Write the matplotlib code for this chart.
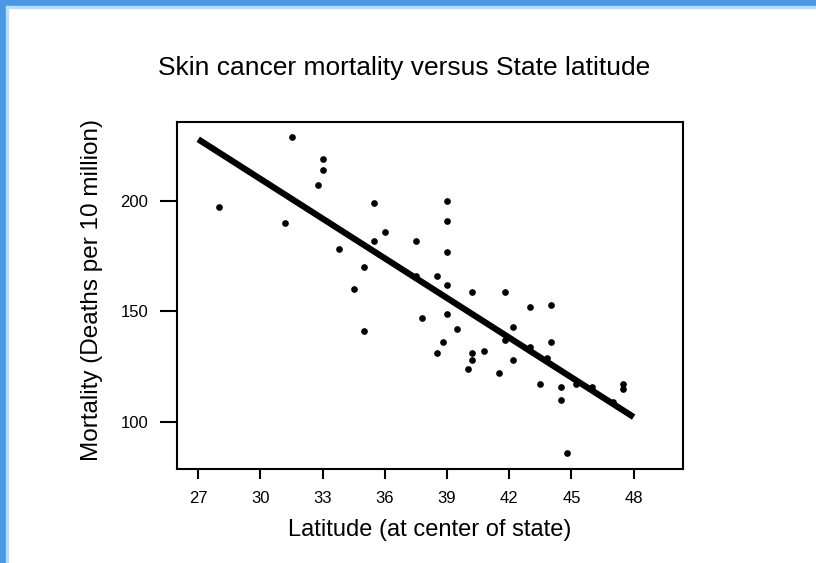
import matplotlib.pyplot as plt
import numpy as np
from matplotlib.patches import Rectangle

plt.rcParams['font.family'] = ['Liberation Sans', 'DejaVu Sans']

# latitude (at centre of state) and skin cancer mortality (deaths per 10 million)
states = ['Alabama', 'Arizona', 'Arkansas', 'California', 'Colorado', 'Connecticut',
          'Delaware', 'Wash,D.C.', 'Florida', 'Georgia', 'Idaho', 'Illinois', 'Indiana',
          'Iowa', 'Kansas', 'Kentucky', 'Louisiana', 'Maine', 'Maryland', 'Massachusetts',
          'Michigan', 'Minnesota', 'Mississippi', 'Missouri', 'Montana', 'Nebraska',
          'Nevada', 'NewHampshire', 'NewJersey', 'NewMexico', 'NewYork', 'NorthCarolina',
          'NorthDakota', 'Ohio', 'Oklahoma', 'Oregon', 'Pennsylvania', 'RhodeIsland',
          'SouthCarolina', 'SouthDakota', 'Tennessee', 'Texas', 'Utah', 'Vermont',
          'Virginia', 'Washington', 'WestVirginia', 'Wisconsin', 'Wyoming']
latitude = [33.0, 34.5, 35.0, 37.5, 39.0, 41.8, 39.0, 39.0, 28.0, 33.0, 44.5, 40.0, 40.2,
            42.2, 38.5, 37.8, 31.2, 45.2, 39.0, 42.2, 43.5, 46.0, 32.8, 38.5, 47.0, 41.5,
            39.0, 43.8, 40.2, 35.0, 43.0, 35.5, 47.5, 40.2, 35.5, 44.0, 40.8, 41.8,
            33.8, 44.8, 36.0, 31.5, 39.5, 44.0, 37.5, 47.5, 38.8, 44.5, 43.0]
mortality = [219, 160, 170, 182, 149, 159, 200, 177, 197, 214, 116, 124, 128,
             128, 166, 147, 190, 117, 162, 143, 117, 116, 207, 131, 109, 122,
             191, 129, 159, 141, 152, 199, 115, 131, 182, 136, 132, 137,
             178, 86, 186, 229, 142, 153, 166, 117, 136, 110, 134]

x_ticks = [27, 30, 33, 36, 39, 42, 45, 48]
y_ticks = [100, 150, 200]
fit_range = [27, 48]

fig = plt.figure(figsize=(8.16, 5.63), dpi=100)
ax = fig.add_axes([0.2175, 0.167, 0.62, 0.6163])

# least squares line through the points
slope, intercept = np.polyfit(latitude, mortality, 1)
xs = np.array(fit_range)
ax.plot(xs, intercept + slope * xs, color='black', lw=4.5, solid_capstyle='butt', zorder=2)
ax.plot(latitude, mortality, 'o', color='black', ms=3.8, zorder=3)

ax.set_xlim(26, 50.4)
ax.set_ylim(78.8, 235.6)
ax.set_xticks(x_ticks)
ax.set_yticks(y_ticks)
ax.tick_params(axis='both', direction='out', width=1.5, labelsize=12, colors='black')
ax.tick_params(axis='x', length=7.5, pad=8)
ax.tick_params(axis='y', length=12, pad=9)
for sp in ax.spines.values():
    sp.set_linewidth(1.5)

fig.text(0.495, 0.879, 'Skin cancer mortality versus State latitude',
         ha='center', va='center', fontsize=19)
fig.text(0.527, 0.059, 'Latitude (at center of state)', ha='center', va='center', fontsize=17)
fig.text(0.113, 0.485, 'Mortality (Deaths per 10 million)', ha='center', va='center',
         rotation=90, fontsize=17.5)

# blue window edge along the top and left
blue = '#4a98e2'
fig.patches.append(Rectangle((0, 1 - 6 / 563), 1, 6 / 563, transform=fig.transFigure,
                             color=blue, zorder=10))
fig.patches.append(Rectangle((0, 0), 6 / 816, 1, transform=fig.transFigure,
                             color=blue, zorder=10))
fig.patches.append(Rectangle((6 / 816, 1 - 7.5 / 563), 1, 1.5 / 563, transform=fig.transFigure,
                             color='#b9dcfa', zorder=10))
fig.patches.append(Rectangle((6 / 816, 0), 1.5 / 816, 1 - 6 / 563, transform=fig.transFigure,
                             color='#b9dcfa', zorder=10))

fig.savefig('out.png', dpi=100)
